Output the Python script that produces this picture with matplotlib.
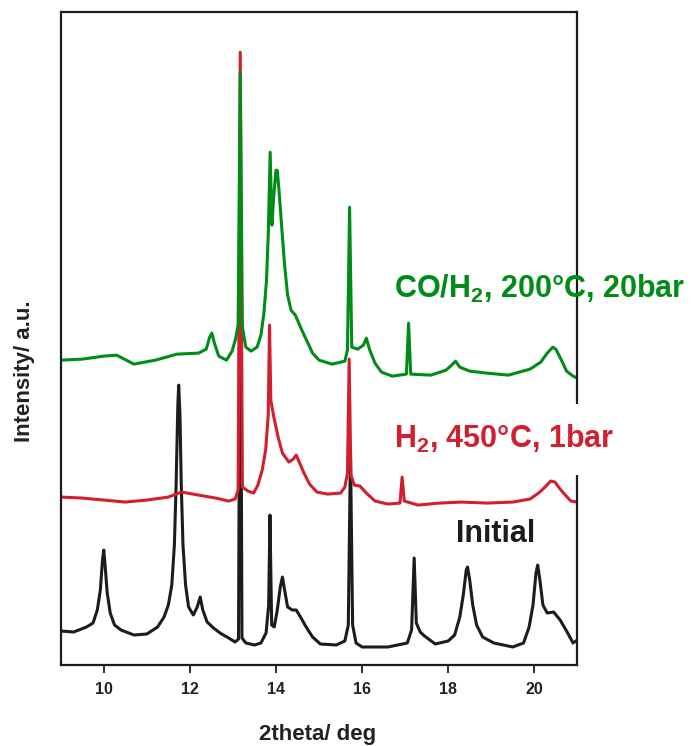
import matplotlib
matplotlib.use('Agg')
import matplotlib.pyplot as plt

plt.rcParams['font.family'] = ['Liberation Sans', 'DejaVu Sans']
plt.rcParams['mathtext.default'] = 'regular'

# Initial sample (black), stacked intensity in a.u.
tt_initial = [9.0, 9.3, 9.6, 9.75, 9.85, 9.92, 9.97, 10.0, 10.03, 10.08,
              10.15, 10.25, 10.4, 10.7, 11.0, 11.25, 11.4, 11.5, 11.58, 11.64,
              11.68, 11.72, 11.74, 11.77, 11.80, 11.84, 11.9, 11.97, 12.08, 12.17,
              12.24, 12.3, 12.4, 12.55, 12.7, 12.9, 13.05, 13.13, 13.17, 13.21,
              13.3, 13.5, 13.65, 13.77, 13.83, 13.86, 13.90, 13.96, 14.03, 14.1,
              14.15, 14.2, 14.27, 14.38, 14.47, 14.57, 14.7, 14.85, 15.03, 15.4,
              15.6, 15.68, 15.73, 15.78, 15.86, 16.0, 16.6, 17.05, 17.15, 17.21,
              17.26, 17.35, 17.45, 17.7, 18.0, 18.15, 18.27, 18.35, 18.42, 18.45,
              18.5, 18.57, 18.66, 18.8, 19.06, 19.5, 19.75, 19.88, 19.97, 20.04,
              20.08, 20.13, 20.2, 20.3, 20.45, 20.6, 20.75, 20.9, 21.0]
int_initial = [34, 33, 38, 42, 55, 75, 105, 115, 100, 72,
               52, 40, 35, 30, 31, 38, 48, 60, 80, 120,
               180, 260, 280, 250, 180, 120, 80, 58, 50, 58,
               68, 55, 43, 37, 32, 27, 23, 26, 478, 27,
               22, 20, 22, 32, 60, 150, 40, 38, 55, 78,
               88, 75, 58, 55, 55, 48, 38, 28, 21, 20,
               24, 40, 215, 40, 22, 18, 18, 22, 35, 107,
               42, 33, 29, 21, 24, 30, 48, 70, 95, 98,
               85, 60, 40, 28, 22, 18, 22, 38, 60, 92,
               100, 85, 60, 52, 53, 45, 34, 22, 25]

# H2, 450 C, 1 bar (red)
tt_h2 = [9.0, 9.5, 10.0, 10.5, 11.0, 11.5, 11.8, 12.2, 12.6, 12.9,
         13.05, 13.12, 13.17, 13.22, 13.35, 13.48, 13.58, 13.68, 13.76, 13.82,
         13.85, 13.88, 13.95, 14.05, 14.15, 14.3, 14.4, 14.47, 14.55, 14.65,
         14.78, 14.95, 15.2, 15.5, 15.6, 15.66, 15.70, 15.74, 15.82, 15.95,
         16.1, 16.3, 16.6, 16.88, 16.93, 16.98, 17.3, 17.8, 18.3, 18.9,
         19.5, 19.9, 20.1, 20.25, 20.38, 20.48, 20.6, 20.72, 20.85, 21.0]
int_h2 = [168, 167, 165, 163, 165, 168, 173, 170, 167, 164,
          166, 175, 613, 178, 174, 172, 180, 195, 215, 250,
          340, 265, 248, 228, 212, 203, 206, 210, 202, 192,
          181, 173, 171, 172, 178, 192, 306, 190, 180, 179,
          172, 164, 161, 162, 188, 164, 160, 162, 163, 162,
          163, 166, 172, 178, 184, 183, 176, 170, 164, 163]

# CO/H2, 200 C, 20 bar (green)
tt_co = [9.0, 9.5, 10.0, 10.3, 10.7, 11.2, 11.7, 12.2, 12.38, 12.46,
         12.51, 12.57, 12.67, 12.85, 12.98, 13.06, 13.12, 13.17, 13.22, 13.3,
         13.42, 13.56, 13.65, 13.72, 13.78, 13.82, 13.865, 13.905, 13.95, 14.0,
         14.03, 14.07, 14.13, 14.2, 14.27, 14.35, 14.45, 14.5, 14.6, 14.72,
         14.85, 15.0, 15.3, 15.6, 15.66, 15.71, 15.76, 15.9, 16.03, 16.1,
         16.17, 16.3, 16.45, 16.7, 17.03, 17.08, 17.13, 17.6, 17.95, 18.08,
         18.17, 18.27, 18.5, 18.9, 19.4, 19.9, 20.15, 20.3, 20.43, 20.5,
         20.62, 20.75, 20.9, 21.0]
int_co = [305, 306, 309, 310, 301, 305, 311, 312, 316, 328,
          332, 322, 309, 305, 314, 326, 340, 593, 338, 318,
          314, 318, 330, 352, 385, 430, 513, 440, 470, 495,
          495, 475, 440, 400, 370, 355, 350, 345, 335, 324,
          312, 305, 301, 304, 315, 458, 318, 316, 320, 327,
          316, 302, 293, 289, 291, 342, 291, 290, 295, 300,
          304, 298, 294, 292, 290, 296, 303, 312, 318, 316,
          306, 294, 289, 287]

black = '#1c1c1c'
red = '#d21f2e'
green = '#008c17'

fig = plt.figure(figsize=(6.94, 7.46), dpi=100)
ax = fig.add_axes([0.0875, 0.1086, 0.7444, 0.8749])

ax.plot(tt_initial, int_initial, color=black, lw=2.2)
ax.plot(tt_h2, int_h2, color=red, lw=2.2)
ax.plot(tt_co, int_co, color=green, lw=2.2)

ax.set_xlim(9, 21)
ax.set_ylim(0, 653)
ax.set_xticks([10, 12, 14, 16, 18, 20])
ax.set_yticks([])
ax.tick_params(axis='x', direction='out', length=6, width=1.3, pad=6.5,
               labelsize=11.5, color=black)
for lab in ax.get_xticklabels():
    lab.set_fontweight('bold')
    lab.set_color('#222222')
for sp in ax.spines.values():
    sp.set_linewidth(1.6)
    sp.set_color(black)

ax.text(16.73, 367, 'CO/H$_2$, 200°C, 20bar', color=green, fontsize=22,
        fontweight='bold', ha='left', va='baseline')
ax.text(16.73, 217, 'H$_2$, 450°C, 1bar', color=red, fontsize=22,
        fontweight='bold', ha='left', va='baseline',
        bbox=dict(facecolor='white', edgecolor='none', pad=14))
ax.text(18.19, 123, 'Initial', color=black, fontsize=22,
        fontweight='bold', ha='left', va='baseline')

fig.text(318 / 694, 1 - 740 / 746, '2theta/ deg', fontsize=16,
         fontweight='bold', color='#222222', ha='center', va='baseline')
fig.text(30 / 694, 1 - 371.5 / 746, 'Intensity/ a.u.', fontsize=16,
         fontweight='bold', color='#222222', ha='center', va='baseline',
         rotation=90, rotation_mode='anchor')

plt.savefig('out.png', dpi=100)
